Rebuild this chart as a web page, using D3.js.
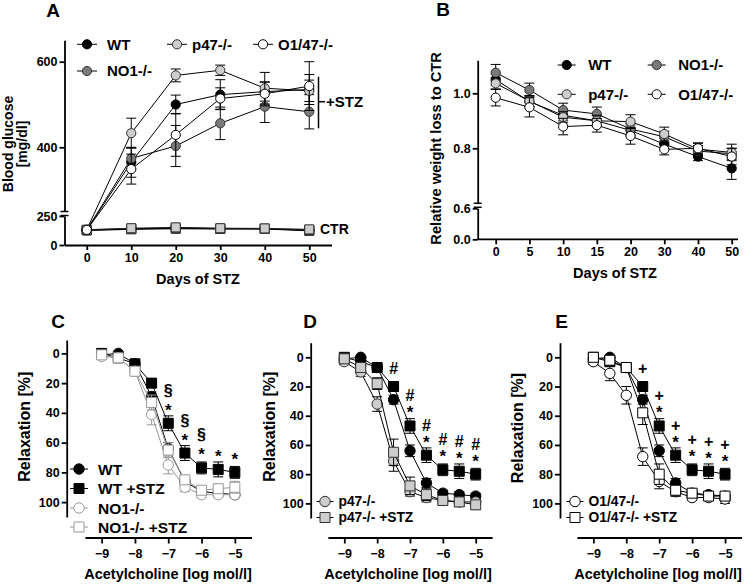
<!DOCTYPE html>
<html>
<head>
<meta charset="utf-8">
<script src="https://cdn.jsdelivr.net/npm/d3@7"></script>
<style>
body { margin: 0; background: #fff; }
svg { display: block; }
text { font-family: "Liberation Sans", Arial, sans-serif; font-weight: bold; }
</style>
</head>
<body>
<svg id="fig" width="750" height="585"></svg>
<script>
// ---- Panel A: blood glucose ----
const glucoseDays = [0, 10, 20, 30, 40, 50];
const glucoseWT = [128, 365, 500, 523, 530, 535];
const glucoseWTErr = [5, 35, 22, 35, 22, 35];
const glucoseNO1 = [130, 374, 403, 456, 495, 483];
const glucoseNO1Err = [5, 25, 48, 38, 37, 40];
const glucoseP47 = [132, 433, 568, 580, 538, 532];
const glucoseP47Err = [5, 35, 15, 12, 37, 25];
const glucoseO147 = [130, 349, 429, 514, 525, 543];
const glucoseO147Err = [5, 35, 50, 25, 28, 57];
const ctrWT = [125, 135, 140, 138, 138, 122];
const ctrNO1 = [128, 138, 145, 140, 140, 126];
const ctrO147 = [130, 140, 148, 142, 140, 130];
const ctrP47 = [132, 145, 152, 145, 143, 135];
const ctrErr = [4, 6, 6, 5, 5, 5];

// ---- Panel B: relative weight ----
const weightDays = ['0', '5', '10', '15', '20', '30', '40', '50'];
const weightWT = [1.05, 0.97, 0.92, 0.90, 0.865, 0.815, 0.77, 0.727];
const weightWTErr = [0.02, 0.02, 0.02, 0.02, 0.02, 0.02, 0.015, 0.04];
const weightNO1 = [1.075, 1.012, 0.939, 0.925, 0.87, 0.842, 0.79, 0.78];
const weightNO1Err = [0.03, 0.025, 0.025, 0.025, 0.02, 0.02, 0.02, 0.02];
const weightP47 = [1.036, 0.972, 0.913, 0.90, 0.897, 0.852, 0.797, 0.785];
const weightP47Err = [0.02, 0.02, 0.02, 0.02, 0.025, 0.025, 0.02, 0.03];
const weightO147 = [0.984, 0.949, 0.879, 0.884, 0.845, 0.796, 0.80, 0.77];
const weightO147Err = [0.03, 0.035, 0.03, 0.025, 0.03, 0.02, 0.02, 0.03];

// ---- Panels C-E: acetylcholine relaxation ----
const achDoses = [-9, -8.5, -8, -7.5, -7, -6.5, -6, -5.5, -5];
const relaxWT = [1, 0, 7, 29, 64, 86, 93, 94, 95];
const relaxWTErr = [1, 1, 2, 3, 4, 3, 2, 2, 2];
const relaxWTSTZ = [0, 3, 7, 20, 47, 67, 77, 78, 80];
const relaxWTSTZErr = [1, 2, 2, 3, 5, 5, 4, 5, 4];
const relaxNO1 = [2, 3, 12, 41, 75, 90, 95, 95, 95];
const relaxNO1Err = [2, 2, 3, 7, 6, 3, 2, 2, 2];
const relaxNO1STZ = [1, 3, 12, 33, 65, 85, 92, 91, 90];
const relaxNO1STZErr = [1, 2, 3, 5, 5, 3, 2, 3, 4];
const relaxP47 = [3, 10, 32, 71, 92, 96, 98, 99, 99];
const relaxP47Err = [2, 3, 5, 7, 3, 3, 2, 2, 2];
const relaxP47STZ = [1, 7, 18, 65, 88, 94, 98, 99, 101];
const relaxP47STZErr = [1, 3, 4, 9, 6, 4, 3, 3, 3];
const relaxO147 = [3, 11, 26, 68, 85, 92, 96, 96, 97];
const relaxO147Err = [2, 5, 6, 6, 5, 3, 2, 2, 3];
const relaxO147STZ = [0, 2, 7, 38, 80, 91, 93, 95, 95];
const relaxO147STZErr = [1, 2, 3, 8, 7, 4, 3, 3, 3];

const sigC = ['', '', '', '', '§', '§', '§', '', ''];
const sigD = ['', '', '', '#', '#', '#', '#', '#', '#'];
const sigE = ['', '', '', '+', '+', '+', '+', '+', '+'];
const starsCDE = ['', '', '', '', '*', '*', '*', '*', '*'];

const doseTicks = [-9, -8, -7, -6, -5];
const relaxTicks = [0, 20, 40, 60, 80, 100];

// ---- styles ----
const St = {
    wt: { shape: 'circle', fill: '#000', stroke: '#000', line: '#000' },
    wtSq: { shape: 'square', fill: '#000', stroke: '#000', line: '#000' },
    no1: { shape: 'circle', fill: '#7a7a7a', stroke: '#333', line: '#000' },
    p47: { shape: 'circle', fill: '#cdcdcd', stroke: '#333', line: '#000' },
    o147: { shape: 'circle', fill: '#fff', stroke: '#000', line: '#000' },
    ctrWT: { shape: 'square', fill: '#222', stroke: '#222', line: '#000' },
    ctrNO1: { shape: 'square', fill: '#7a7a7a', stroke: '#333', line: '#000' },
    ctrO147: { shape: 'square', fill: '#fff', stroke: '#333', line: '#000' },
    ctrP47: { shape: 'square', fill: '#cdcdcd', stroke: '#333', line: '#222' },
    no1Open: { shape: 'circle', fill: '#fff', stroke: '#999', line: '#999' },
    no1OpenSq: { shape: 'square', fill: '#fff', stroke: '#999', line: '#999' },
    p47Sq: { shape: 'square', fill: '#cdcdcd', stroke: '#333', line: '#000' },
    o147Sq: { shape: 'square', fill: '#fff', stroke: '#000', line: '#000' },
};

const svg = d3.select('#fig');

function symbolPath(shape, r) {
    if (shape === 'square') return d3.symbol(d3.symbolSquare, (2 * r) * (2 * r))();
    return d3.symbol(d3.symbolCircle, Math.PI * r * r)();
}

function drawSeries(xs, vals, errs, xf, yf, st, r, cap) {
    const g = svg.append('g');
    const pts = xs.map((d, i) => ({
        x: xf(d), y: yf(vals[i]), lo: yf(vals[i] - errs[i]), hi: yf(vals[i] + errs[i]),
    }));
    g.append('path')
        .datum(pts)
        .attr('d', d3.line().x(d => d.x).y(d => d.y))
        .attr('fill', 'none')
        .attr('stroke', st.line)
        .attr('stroke-width', 1);
    const eb = g.append('g').attr('stroke', st.line).attr('stroke-width', 1);
    eb.selectAll('line.v').data(pts).join('line')
        .attr('x1', d => d.x).attr('x2', d => d.x)
        .attr('y1', d => d.lo).attr('y2', d => d.hi);
    eb.selectAll('line.lo').data(pts).join('line')
        .attr('x1', d => d.x - cap).attr('x2', d => d.x + cap)
        .attr('y1', d => d.lo).attr('y2', d => d.lo);
    eb.selectAll('line.hi').data(pts).join('line')
        .attr('x1', d => d.x - cap).attr('x2', d => d.x + cap)
        .attr('y1', d => d.hi).attr('y2', d => d.hi);
    g.append('g').selectAll('path').data(pts).join('path')
        .attr('transform', d => `translate(${d.x},${d.y})`)
        .attr('d', symbolPath(st.shape, r))
        .attr('fill', st.fill)
        .attr('stroke', st.stroke)
        .attr('stroke-width', 1);
}

function legendItem(x, y, st, label, half, gap, fs, r) {
    const g = svg.append('g');
    g.append('line')
        .attr('x1', x - half).attr('x2', x + half)
        .attr('y1', y).attr('y2', y)
        .attr('stroke', st.line).attr('stroke-width', 1);
    g.append('path')
        .attr('transform', `translate(${x},${y})`)
        .attr('d', symbolPath(st.shape, r))
        .attr('fill', st.fill).attr('stroke', st.stroke).attr('stroke-width', 1);
    g.append('text')
        .attr('x', x + gap).attr('y', y + fs * 0.36)
        .attr('font-size', fs)
        .text(label);
}

function styleAxis(sel, fs) {
    sel.attr('font-family', '"Liberation Sans", Arial, sans-serif').attr('font-size', fs);
    sel.selectAll('.domain, .tick line').attr('stroke', '#000').attr('stroke-width', 1.8);
    sel.selectAll('text').attr('font-weight', 'bold').attr('fill', '#000');
}

function breakMarks(x, ys) {
    svg.append('g').attr('stroke', '#000').attr('stroke-width', 1.5)
        .selectAll('line').data(ys).join('line')
        .attr('x1', x - 4).attr('x2', x + 4)
        .attr('y1', d => d).attr('y2', d => d);
}

function panelLetter(x, y, t) {
    svg.append('text').attr('x', x).attr('y', y).attr('text-anchor', 'middle')
        .attr('font-size', 19).text(t);
}

function yLabel(x, cy, lines, fs, lh) {
    const t = svg.append('text')
        .attr('transform', `translate(${x},${cy}) rotate(-90)`)
        .attr('text-anchor', 'middle')
        .attr('font-size', fs);
    lines.forEach((l, i) => t.append('tspan').attr('x', 0).attr('y', i * lh).text(l));
}

function xLabel(cx, y, label, fs) {
    svg.append('text').attr('x', cx).attr('y', y).attr('text-anchor', 'middle')
        .attr('font-size', fs).text(label);
}

// ================= Panel A =================
const xA = d3.scaleLinear().domain([-5, 55]).range([64.5, 331.5]);
const yAUp = d3.scaleLinear().domain([250, 650]).range([211.5, 40.3]);
const yALo = d3.scaleLinear().domain([0, 250]).range([245, 216]);
const yA = v => (v > 250 ? yAUp(v) : yALo(v));

svg.append('g').attr('transform', 'translate(64.5,0)')
    .call(d3.axisLeft(yAUp).tickValues([400, 600]).tickSize(5).tickSizeOuter(0).tickPadding(2))
    .call(s => styleAxis(s, 12.5));
svg.append('g').attr('transform', 'translate(64.5,0)')
    .call(d3.axisLeft(yALo).tickValues([0, 250]).tickSize(5).tickSizeOuter(0).tickPadding(2))
    .call(s => styleAxis(s, 12.5));
breakMarks(64.5, [211.5, 215.5]);
svg.append('g').attr('transform', 'translate(0,245)')
    .call(d3.axisBottom(xA).tickValues(glucoseDays).tickSize(5).tickSizeOuter(0).tickPadding(3))
    .call(s => styleAxis(s, 12.5));

[[ctrWT, St.ctrWT], [ctrNO1, St.ctrNO1], [ctrO147, St.ctrO147], [ctrP47, St.ctrP47]]
    .forEach(([v, st]) => drawSeries(glucoseDays, v, ctrErr, xA, yA, st, 4.5, 5));
drawSeries(glucoseDays, glucoseWT, glucoseWTErr, xA, yA, St.wt, 4.6, 5);
drawSeries(glucoseDays, glucoseNO1, glucoseNO1Err, xA, yA, St.no1, 4.6, 5);
drawSeries(glucoseDays, glucoseP47, glucoseP47Err, xA, yA, St.p47, 4.6, 5);
drawSeries(glucoseDays, glucoseO147, glucoseO147Err, xA, yA, St.o147, 4.6, 5);

// +STZ bracket and CTR label
svg.append('line').attr('x1', 318.5).attr('x2', 318.5).attr('y1', 76.7).attr('y2', 128.3)
    .attr('stroke', '#000').attr('stroke-width', 1.5);
svg.append('line').attr('x1', 318.5).attr('x2', 325).attr('y1', 101.7).attr('y2', 101.7)
    .attr('stroke', '#000').attr('stroke-width', 1.5);
svg.append('text').attr('x', 326).attr('y', 107).attr('font-size', 15).text('+STZ');
svg.append('text').attr('x', 320).attr('y', 234).attr('font-size', 14).text('CTR');

legendItem(87, 44.3, St.wt, 'WT', 10, 20, 15, 4.6);
legendItem(177, 44.3, St.p47, 'p47-/-', 10, 15, 15, 4.6);
legendItem(263, 44.3, St.o147, 'O1/47-/-', 10, 15, 15, 4.6);
legendItem(87, 71, St.no1, 'NO1-/-', 10, 20, 15, 4.6);

panelLetter(53, 17, 'A');
yLabel(12.5, 144, ['Blood glucose', '[mg/dl]'], 14, 14.5);
xLabel(198, 284, 'Days of STZ', 14.5);

// ================= Panel B =================
const xB = d3.scalePoint().domain(weightDays).range([495.7, 731.7]);
const yBUp = d3.scaleLinear().domain([0.6, 1.12]).range([203.3, 60.3]);
const yBLo = d3.scaleLinear().domain([0, 0.6]).range([239.3, 208.3]);
const yB = v => (v > 0.6 ? yBUp(v) : yBLo(v));

svg.append('g').attr('transform', 'translate(477.7,0)')
    .call(d3.axisLeft(yBUp).tickValues([0.8, 1.0]).tickFormat(d3.format('.1f')).tickSize(5).tickSizeOuter(0).tickPadding(2))
    .call(s => styleAxis(s, 12.5));
svg.append('g').attr('transform', 'translate(477.7,0)')
    .call(d3.axisLeft(yBLo).tickValues([0, 0.6]).tickFormat(d3.format('.1f')).tickSize(5).tickSizeOuter(0).tickPadding(2))
    .call(s => styleAxis(s, 12.5));
breakMarks(477.7, [203.3, 207.3]);
svg.append('g').attr('transform', 'translate(0,239.3)')
    .call(d3.axisBottom(xB).tickSize(5).tickSizeOuter(0).tickPadding(3))
    .call(s => styleAxis(s, 12.5))
    .call(s => s.select('.domain').attr('d', 'M477.7,0H738'));

drawSeries(weightDays, weightWT, weightWTErr, xB, yB, St.wt, 4.6, 5);
drawSeries(weightDays, weightNO1, weightNO1Err, xB, yB, St.no1, 4.6, 5);
drawSeries(weightDays, weightP47, weightP47Err, xB, yB, St.p47, 4.6, 5);
drawSeries(weightDays, weightO147, weightO147Err, xB, yB, St.o147, 4.6, 5);

legendItem(566.7, 65, St.wt, 'WT', 9, 21.5, 15, 4.6);
legendItem(656.7, 65, St.no1, 'NO1-/-', 9, 21.5, 15, 4.6);
legendItem(566.7, 94.3, St.p47, 'p47-/-', 9, 21.5, 15, 4.6);
legendItem(656.7, 94.3, St.o147, 'O1/47-/-', 9, 21.5, 15, 4.6);

panelLetter(443, 16, 'B');
yLabel(440.5, 148.4, ['Relative weight loss to CTR'], 14.7, 0);
xLabel(615, 278, 'Days of STZ', 14.5);

// ================= Panels C-E =================
function relaxAxes(axisX, xs, ys) {
    svg.append('g').attr('transform', `translate(${axisX},0)`)
        .call(d3.axisLeft(ys).tickValues(relaxTicks).tickSize(5).tickSizeOuter(0).tickPadding(2))
        .call(s => styleAxis(s, 12.5));
    svg.append('g').attr('transform', 'translate(0,537.5)')
        .call(d3.axisBottom(xs).tickValues(doseTicks).tickFormat(d3.format('d'))
            .tickSize(6).tickSizeOuter(0).tickPadding(6))
        .call(s => styleAxis(s, 12.5));
}

function sigMarks(xs, ys, ref, sig, stars) {
    const g = svg.append('g').attr('font-size', 16).attr('text-anchor', 'middle');
    achDoses.forEach((d, i) => {
        const cx = xs(d);
        const cy = ys(ref[i]);
        if (stars[i]) {
            g.append('text').attr('x', cx).attr('y', cy - 17 + 9.5)
                .attr('font-size', 17).attr('font-weight', 'normal').text(stars[i]);
        }
        if (sig[i]) {
            const off = stars[i] ? (sig[i] === '§' ? 33 : 30) : 18;
            g.append('text').attr('x', cx).attr('y', cy - off + 5.5)
                .attr('font-weight', 'normal').text(sig[i]);
        }
    });
}

// C
const xC = d3.scaleLinear().domain([-9.5, -4.5]).range([85, 251.5]);
const yC = d3.scaleLinear().domain([-9, 110]).range([340, 517]);
relaxAxes(66.7, xC, yC);
drawSeries(achDoses, relaxWT, relaxWTErr, xC, yC, St.wt, 5.2, 5);
drawSeries(achDoses, relaxWTSTZ, relaxWTSTZErr, xC, yC, St.wtSq, 5, 5);
drawSeries(achDoses, relaxNO1, relaxNO1Err, xC, yC, St.no1Open, 5.2, 5);
drawSeries(achDoses, relaxNO1STZ, relaxNO1STZErr, xC, yC, St.no1OpenSq, 5, 5);
sigMarks(xC, yC, relaxWTSTZ, sigC, starsCDE);
legendItem(79, 469, St.wt, 'WT', 9, 19, 15.5, 5.2);
legendItem(79, 488.5, St.wtSq, 'WT +STZ', 9, 19, 15.5, 5);
legendItem(79, 508, St.no1Open, 'NO1-/-', 9, 19, 15.5, 5.2);
legendItem(79, 527, St.no1OpenSq, 'NO1-/- +STZ', 9, 19, 15.5, 5);
panelLetter(58, 328.3, 'C');
yLabel(29.5, 426.7, ['Relaxation [%]'], 16, 0);
xLabel(168, 579, 'Acetylcholine [log mol/l]', 14.5);

// D
const xD = d3.scaleLinear().domain([-9.5, -4.5]).range([327.9, 492.1]);
const yD = d3.scaleLinear().domain([-10, 110]).range([342.7, 518]);
relaxAxes(310.7, xD, yD);
drawSeries(achDoses, relaxWT, relaxWTErr, xD, yD, St.wt, 5.2, 5);
drawSeries(achDoses, relaxWTSTZ, relaxWTSTZErr, xD, yD, St.wtSq, 5, 5);
drawSeries(achDoses, relaxP47, relaxP47Err, xD, yD, St.p47, 5.2, 5);
drawSeries(achDoses, relaxP47STZ, relaxP47STZErr, xD, yD, St.p47Sq, 5, 5);
sigMarks(xD, yD, relaxWTSTZ, sigD, starsCDE);
legendItem(325, 501.5, St.p47, 'p47-/-', 8.5, 13.5, 13.8, 5.2);
legendItem(325, 517.5, St.p47Sq, 'p47-/- +STZ', 8.5, 13.5, 13.8, 5);
panelLetter(310, 328.3, 'D');
yLabel(274.5, 426.7, ['Relaxation [%]'], 16, 0);
xLabel(408, 579, 'Acetylcholine [log mol/l]', 14.5);

// E
const xE = d3.scaleLinear().domain([-9.5, -4.5]).range([576.9, 741.5]);
const yE = d3.scaleLinear().domain([-10, 110]).range([342.7, 518]);
relaxAxes(560, xE, yE);
drawSeries(achDoses, relaxWT, relaxWTErr, xE, yE, St.wt, 5.2, 5);
drawSeries(achDoses, relaxWTSTZ, relaxWTSTZErr, xE, yE, St.wtSq, 5, 5);
drawSeries(achDoses, relaxO147, relaxO147Err, xE, yE, St.o147, 5.2, 5);
drawSeries(achDoses, relaxO147STZ, relaxO147STZErr, xE, yE, St.o147Sq, 5, 5);
sigMarks(xE, yE, relaxWTSTZ, sigE, starsCDE);
legendItem(575, 501.5, St.o147, 'O1/47-/-', 8.5, 13.5, 13.8, 5.2);
legendItem(575, 517.5, St.o147Sq, 'O1/47-/- +STZ', 8.5, 13.5, 13.8, 5);
panelLetter(561.7, 328.3, 'E');
yLabel(523, 428, ['Relaxation [%]'], 16, 0);
xLabel(658, 579, 'Acetylcholine [log mol/l]', 14.5);
</script>
</body>
</html>
